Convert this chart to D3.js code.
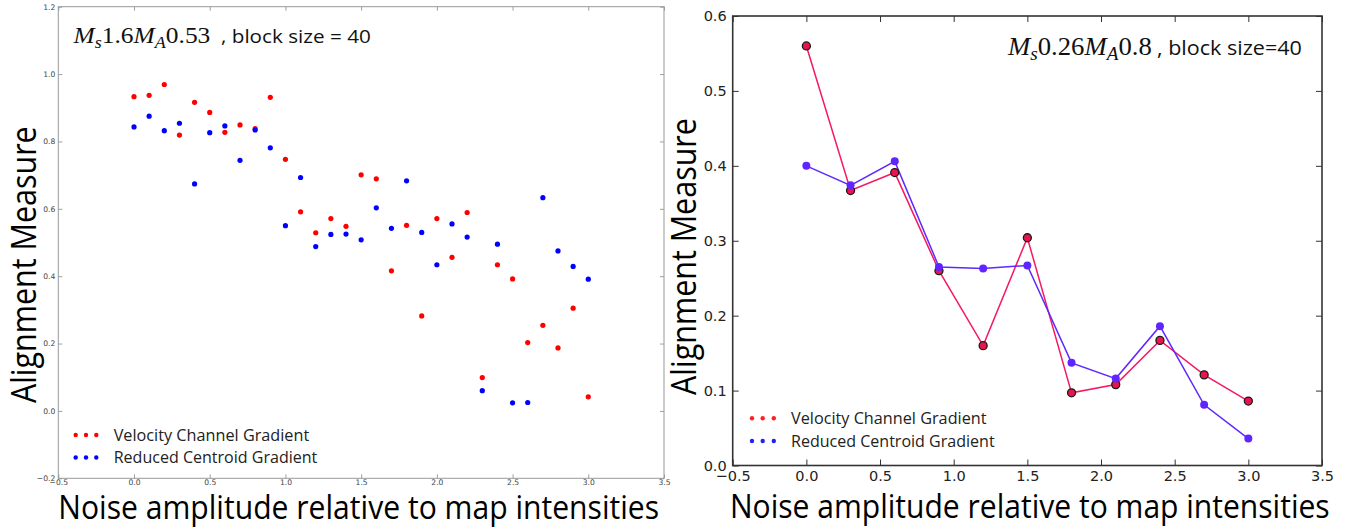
<!DOCTYPE html>
<html>
<head>
<meta charset="utf-8">
<script src="https://cdn.jsdelivr.net/npm/d3@7"></script>
<style>
html,body{margin:0;padding:0;background:#fff;}
svg{display:block;}
</style>
</head>
<body>
<svg id="chart" width="1361" height="529"></svg>
<script>
// ---------- DATA ----------
const leftX = [0.0,0.1,0.2,0.3,0.4,0.5,0.6,0.7,0.8,0.9,1.0,1.1,1.2,1.3,1.4,1.5,1.6,1.7,1.8,1.9,2.0,2.1,2.2,2.3,2.4,2.5,2.6,2.7,2.8,2.9,3.0];
const leftVelocity = [0.933,0.937,0.969,0.819,0.916,0.886,0.827,0.849,0.838,0.931,0.747,0.591,0.529,0.571,0.548,0.701,0.689,0.416,0.551,0.282,0.571,0.456,0.589,0.099,0.434,0.392,0.203,0.254,0.187,0.305,0.042];
const leftCentroid = [0.843,0.875,0.832,0.854,0.674,0.826,0.846,0.744,0.834,0.781,0.550,0.693,0.488,0.524,0.525,0.508,0.603,0.542,0.683,0.530,0.434,0.555,0.516,0.060,0.495,0.024,0.025,0.633,0.475,0.429,0.391];

const rightX = [0.0,0.3,0.6,0.9,1.2,1.5,1.8,2.1,2.4,2.7,3.0];
const rightVelocity = [0.560,0.367,0.391,0.260,0.160,0.304,0.097,0.108,0.167,0.121,0.086];
const rightCentroid = [0.400,0.374,0.406,0.265,0.263,0.267,0.137,0.116,0.186,0.081,0.036];

const xTicks = [-0.5,0.0,0.5,1.0,1.5,2.0,2.5,3.0,3.5];
const leftYTicks = [-0.2,0.0,0.2,0.4,0.6,0.8,1.0,1.2];
const rightYTicks = [0.0,0.1,0.2,0.3,0.4,0.5,0.6];

const seriesNames = ["Velocity Channel Gradient","Reduced Centroid Gradient"];
const xTitle = "Noise amplitude relative to map intensities";
const yTitle = "Alignment Measure";

// ---------- HELPERS ----------
const svg = d3.select("#chart");
const fmt = d3.format(".1f");
const SANS = "'Open Sans', 'Noto Sans', sans-serif";
const TICKFONT = "'DejaVu Sans', sans-serif";

function fitWidth(sel, x0, target){
  const w = sel.node().getBBox().width;
  if (w > 0) sel.attr("transform", `translate(${x0},0) scale(${target/w},1) translate(${-x0},0)`);
}
function fitHeightRot(sel, cx, cy, target){
  const w = sel.node().getComputedTextLength();
  sel.attr("transform", `translate(${cx},${cy}) rotate(-90) scale(${target/w},1)`);
}

function drawFrame(g, x, y, opts){
  const [x0,x1] = x.range(), [y0,y1] = y.range();
  const ax = (axis, tr) => {
    const a = g.append("g").attr("transform", tr).call(axis);
    a.select(".domain").remove();
    a.selectAll(".tick line").attr("stroke", opts.tickColor).attr("stroke-width", opts.tickWidth);
    return a;
  };
  const bottom = ax(d3.axisBottom(x).tickValues(xTicks).tickSizeInner(-opts.tick).tickSizeOuter(0).tickPadding(opts.pad).tickFormat(fmt), `translate(0,${y0})`);
  bottom.selectAll("text").attr("font-family", TICKFONT).attr("font-size", opts.font).attr("fill", opts.labelColor).attr("dy", opts.xdy);
  ax(d3.axisTop(x).tickValues(xTicks).tickSizeInner(-opts.tick).tickSizeOuter(0).tickFormat(""), `translate(0,${y1})`);
  const left = ax(d3.axisLeft(y).tickValues(opts.yTicks).tickSizeInner(-opts.tick).tickSizeOuter(0).tickPadding(opts.pad).tickFormat(fmt), `translate(${x0},0)`);
  left.selectAll("text").attr("font-family", TICKFONT).attr("font-size", opts.font).attr("fill", opts.labelColor).attr("dx", opts.ydx);
  ax(d3.axisRight(y).tickValues(opts.yTicks).tickSizeInner(-opts.tick).tickSizeOuter(0).tickFormat(""), `translate(${x1},0)`);
  g.append("rect").attr("x", x0).attr("y", y1).attr("width", x1-x0).attr("height", y0-y1)
    .attr("fill","none").attr("stroke", opts.frameColor).attr("stroke-width", opts.frameWidth);
}

function mathTitle(g, x, y, size, subSize, parts, target){
  const t = g.append("text").attr("x", x).attr("y", y)
    .attr("font-family", "'Liberation Serif','DejaVu Serif',serif").attr("font-size", size).attr("fill","#111");
  parts.forEach(p => {
    t.append("tspan").attr("font-style","italic").text("M");
    t.append("tspan").attr("font-style","italic").attr("font-size", subSize).attr("dy", size*0.22).text(p[0]);
    t.append("tspan").attr("dy", -size*0.22).text(p[1]);
  });
  fitWidth(t, x, target);
  return t;
}

function legend(g, xDots, yRows, textX, colors, target){
  yRows.forEach((yy, i) => {
    g.selectAll(null).data(xDots).enter().append("circle")
      .attr("cx", d => d).attr("cy", yy).attr("r", 2.2).attr("fill", colors[i]);
    const t = g.append("text").attr("x", textX).attr("y", yy + 5.8)
      .attr("font-family", SANS).attr("font-size", 16).attr("fill", "#222").text(seriesNames[i]);
    fitWidth(t, textX, target[i]);
  });
}

// ---------- LEFT PANEL ----------
const gL = svg.append("g");
const xL = d3.scaleLinear().domain([-0.5, 3.5]).range([58.3, 664]);
const yL = d3.scaleLinear().domain([-0.2, 1.2]).range([478.3, 6.7]);

gL.selectAll("circle.vl").data(leftX).enter().append("circle").attr("class","vl")
  .attr("cx", d => xL(d)).attr("cy", (d,i) => yL(leftVelocity[i])).attr("r", 2.6).attr("fill", "#ff0000");
gL.selectAll("circle.cl").data(leftX).enter().append("circle").attr("class","cl")
  .attr("cx", d => xL(d)).attr("cy", (d,i) => yL(leftCentroid[i])).attr("r", 2.6).attr("fill", "#0000ff");

drawFrame(gL, xL, yL, {tick:4, tickColor:"#888", tickWidth:0.8, pad:3, font:7.6, labelColor:"#444",
  frameColor:"#999", frameWidth:1, yTicks:leftYTicks, xdy:"0.55em", ydx:"0"});

mathTitle(gL, 73.5, 42.7, 24, 17, [["s","1.6"],["A","0.53"]], 138);
const tbL = gL.append("text").attr("x", 221).attr("y", 42.7).attr("font-family", SANS).attr("font-size", 19)
  .attr("fill","#111").text(", block size = 40");
fitWidth(tbL, 221, 150);

legend(gL, [75.7, 86, 96.3], [435, 457.5], 113.7, ["#ff0000","#0000ff"], [196, 204]);

const xtL = gL.append("text").attr("x", 58.3).attr("y", 519).attr("font-family", SANS).attr("font-size", 32)
  .attr("fill","#000").text(xTitle);
fitWidth(xtL, 58.3, 601);
const ytL = gL.append("text").attr("x", 0).attr("y", 0).attr("text-anchor","middle")
  .attr("font-family", SANS).attr("font-size", 34).attr("fill","#000").text(yTitle);
fitHeightRot(ytL, 35.5, 264.7, 277);

// ---------- RIGHT PANEL ----------
const gR = svg.append("g");
const xR = d3.scaleLinear().domain([-0.5, 3.5]).range([732.7, 1322]);
const yR = d3.scaleLinear().domain([0, 0.6]).range([465.5, 16]);

const line = (ys) => d3.line().x(d => xR(d)).y((d,i) => yR(ys[i]))(rightX);
gR.append("path").attr("d", line(rightVelocity)).attr("fill","none").attr("stroke","#f5195f").attr("stroke-width",1.5);
gR.append("path").attr("d", line(rightCentroid)).attr("fill","none").attr("stroke","#5f28ff").attr("stroke-width",1.5);
gR.selectAll("circle.vr").data(rightX).enter().append("circle").attr("class","vr")
  .attr("cx", d => xR(d)).attr("cy", (d,i) => yR(rightVelocity[i])).attr("r", 4)
  .attr("fill", "#e8144e").attr("stroke","#1a1a1a").attr("stroke-width",1.3);
gR.selectAll("circle.cr").data(rightX).enter().append("circle").attr("class","cr")
  .attr("cx", d => xR(d)).attr("cy", (d,i) => yR(rightCentroid[i])).attr("r", 4)
  .attr("fill", "#5f24ff");

drawFrame(gR, xR, yR, {tick:6, tickColor:"#333", tickWidth:1, pad:5, font:14.5, labelColor:"#222",
  frameColor:"#333", frameWidth:1.6, yTicks:rightYTicks, xdy:"0.71em", ydx:"-1"});

mathTitle(gR, 1008, 55, 25, 18, [["s","0.26"],["A","0.8"]], 145);
const tbR = gR.append("text").attr("x", 1157).attr("y", 55).attr("font-family", SANS).attr("font-size", 20)
  .attr("fill","#111").text(", block size=40");
fitWidth(tbR, 1157, 145);

legend(gR, [752, 762.7, 773.8], [418.3, 441], 791, ["#ff2020","#2020ff"], [196, 204]);

const xtR = gR.append("text").attr("x", 730).attr("y", 518).attr("font-family", SANS).attr("font-size", 32)
  .attr("fill","#000").text(xTitle);
fitWidth(xtR, 730, 600);
const ytR = gR.append("text").attr("x", 0).attr("y", 0).attr("text-anchor","middle")
  .attr("font-family", SANS).attr("font-size", 34).attr("fill","#000").text(yTitle);
fitHeightRot(ytR, 695.5, 256.5, 277);
</script>
</body>
</html>
